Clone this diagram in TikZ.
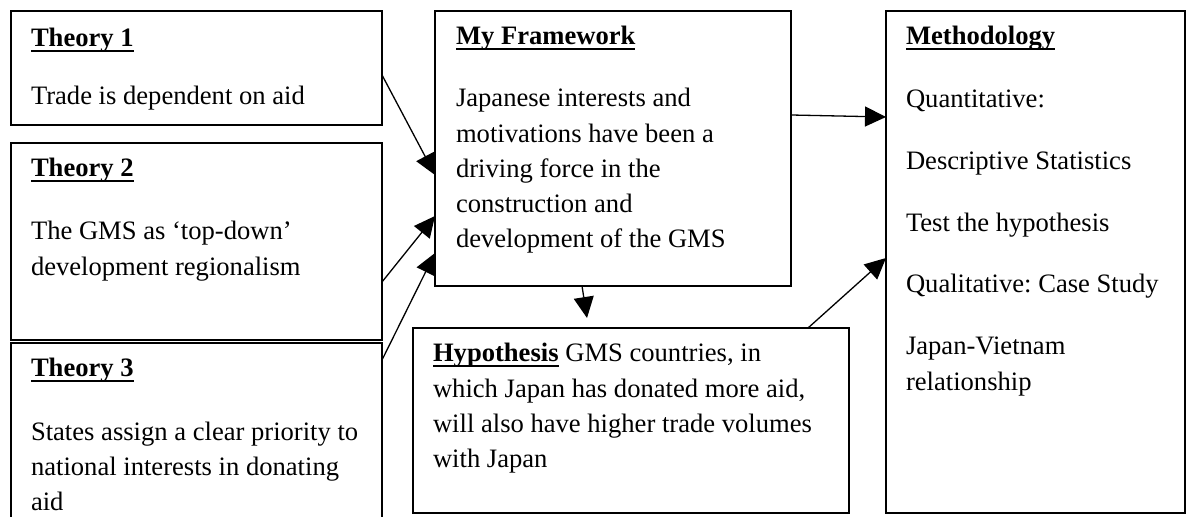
\documentclass[tikz,border=0pt]{standalone}
\usepackage{fontspec}
\setmainfont{Liberation Serif}
\usetikzlibrary{arrows.meta,calc,fit}
\frenchspacing
\newcommand\myul[1]{\setbox0\hbox{#1}\rlap{\vrule height -1.6pt depth 2.4pt width \wd0}\box0\relax}
\newcommand\ttl[1]{\myul{\textbf{#1}}}
\newcommand\ml[1]{\begin{tabular}[t]{@{}l@{}}#1\end{tabular}}
\tikzset{
  box/.style={draw, line width=0.75pt, inner sep=0pt, outer sep=0pt},
  txt/.style={anchor=base west, inner sep=0pt, outer sep=0pt, font=\fontsize{13.3}{17.6}\selectfont},
  arr/.style={-{Triangle[length=10.5pt,width=10pt]}, line width=0.65pt}
}
\begin{document}
\begin{tikzpicture}[x=0.5pt, y=-0.5pt]
\useasboundingbox (0,0) rectangle (1186,517);
\clip (0,0) rectangle (1186,517);
% boxes
\node[box, fit={(11,11) (382,125)}] (t1) {};
\node[box, fit={(11,143) (382,340)}] (t2) {};
\node[box, fit={(11,343) (382,540)}] (t3) {};
\node[box, fit={(435,11) (791,286)}] (fw) {};
\node[box, fit={(413,328) (849,513)}] (hy) {};
\node[box, fit={(886,11) (1185,513)}] (me) {};
% texts
\node[txt] (t1a) at (31,47) {\ttl{Theory 1}};
\node[txt] (t1b) at (31,105) {Trade is dependent on aid};
\node[txt] (t2a) at (31,177) {\ttl{Theory 2}};
\node[txt] (t2b) at (31,240) {\ml{The GMS as ‘top-down’\\development regionalism}};
\node[txt] (t3a) at (31,377) {\ttl{Theory 3}};
\node[txt] (t3b) at (31,440) {\ml{States assign a clear priority to\\national interests in donating\\aid}};
\node[txt] (fwa) at (456,45) {\ttl{My Framework}};
\node[txt] (fwb) at (456,107) {\ml{Japanese interests and\\motivations have been a\\driving force in the\\construction and\\development of the GMS}};
\node[txt] (hya) at (433,362) {\ml{\ttl{Hypothesis} GMS countries, in\\which Japan has donated more aid,\\will also have higher trade volumes\\with Japan}};
\node[txt] (mea) at (906,45) {\ttl{Methodology}};
\node[txt] (meb) at (906,108) {Quantitative:};
\node[txt] (mec) at (906,170) {Descriptive Statistics};
\node[txt] (med) at (906,232) {Test the hypothesis};
\node[txt] (mee) at (906,293) {Qualitative: Case Study};
\node[txt] (mef) at (906,355) {\ml{Japan-Vietnam\\relationship}};
% connectors
\draw[arr] ($(t1.north east)+(0,64)$) -- ($(fw.north west)+(0,164)$);
\draw[arr] ($(t2.north east)+(0,139)$) -- ($(fw.north west)+(0,205)$);
\draw[arr] ($(t3.north east)+(0,17)$) -- ($(fw.north west)+(0,242)$);
\draw[arr] ($(fw.south west)+(147,0)$) -- ($(hy.north west)+(174,-10)$);
\draw[arr] ($(fw.north east)+(0,104)$) -- ($(me.north west)+(0,106)$);
\draw[arr] ($(hy.north west)+(395,0)$) -- ($(me.north west)+(0,247)$);
\end{tikzpicture}
\end{document}
